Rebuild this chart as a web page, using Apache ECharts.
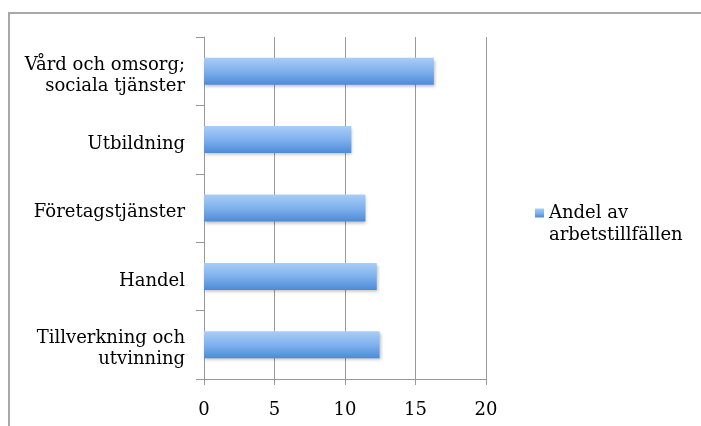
<!DOCTYPE html>
<html>
<head>
<meta charset="utf-8">
<script src="https://cdn.jsdelivr.net/npm/echarts@6/dist/echarts.min.js"></script>
<style>
html,body{margin:0;padding:0;background:#fff;}
#chart{width:701px;height:426px;}
</style>
</head>
<body>
<div id="chart"></div>
<script>
var categories = ['Tillverkning och\nutvinning', 'Handel', 'Företagstjänster', 'Utbildning', 'Vård och omsorg;\nsociala tjänster'];
var values = [12.45, 12.25, 11.45, 10.45, 16.3];
var seriesName = 'Andel av arbetstillfällen';
var xTicks = [0, 5, 10, 15, 20];

var FONT = 'DejaVu Serif';
var chart = echarts.init(document.getElementById('chart'), null, {renderer: 'canvas'});
chart.setOption({
  animation: false,
  backgroundColor: '#ffffff',
  textStyle: {fontFamily: FONT},
  grid: {left: 204, right: 215, top: 37, bottom: 47, containLabel: false},
  legend: {
    left: 535, top: 180, padding: 0,
    itemWidth: 9, itemHeight: 9, icon: 'rect',
    data: [seriesName],
    formatter: function () { return '\nAndel av\narbetstillfällen'; },
    textStyle: {fontFamily: FONT, fontSize: 18, color: '#000', lineHeight: 22}
  },
  xAxis: {
    type: 'value', min: xTicks[0], max: xTicks[xTicks.length - 1], interval: 5,
    axisLine: {show: true, lineStyle: {color: '#999', width: 1}},
    axisTick: {show: true, length: 6, lineStyle: {color: '#999'}},
    splitLine: {show: true, lineStyle: {color: '#999', width: 1}},
    axisLabel: {fontFamily: FONT, fontSize: 18, color: '#000', margin: 22}
  },
  yAxis: {
    type: 'category', data: categories,
    axisLine: {show: true, lineStyle: {color: '#999', width: 1}},
    axisTick: {show: true, length: 8, lineStyle: {color: '#999'}},
    axisLabel: {
      margin: 19, align: 'right',
      formatter: function (v) {
        return '{p|}\n' + v.split('\n').map(function (l) { return '{t|' + l + '}'; }).join('\n');
      },
      rich: {
        p: {height: 9, lineHeight: 9, fontSize: 9},
        t: {fontFamily: FONT, fontSize: 18, color: '#000', lineHeight: 21, align: 'right'}
      }
    }
  },
  series: [{
    name: seriesName, type: 'bar', data: values, barWidth: 27,
    itemStyle: {
      color: new echarts.graphic.LinearGradient(0, 0, 0, 1, [
        {offset: 0, color: '#a9cdf6'},
        {offset: 0.5, color: '#7fb1ee'},
        {offset: 1, color: '#4d8bd6'}
      ]),
      shadowColor: 'rgba(0,0,0,0.25)', shadowBlur: 3, shadowOffsetX: 1, shadowOffsetY: 2
    }
  }],
  graphic: [
    {type: 'line', silent: true, shape: {x1: 9, y1: 13, x2: 701, y2: 13}, style: {stroke: '#a8a8a8', lineWidth: 2}},
    {type: 'line', silent: true, shape: {x1: 9, y1: 12, x2: 9, y2: 426}, style: {stroke: '#a8a8a8', lineWidth: 2}}
  ]
});
</script>
</body>
</html>
